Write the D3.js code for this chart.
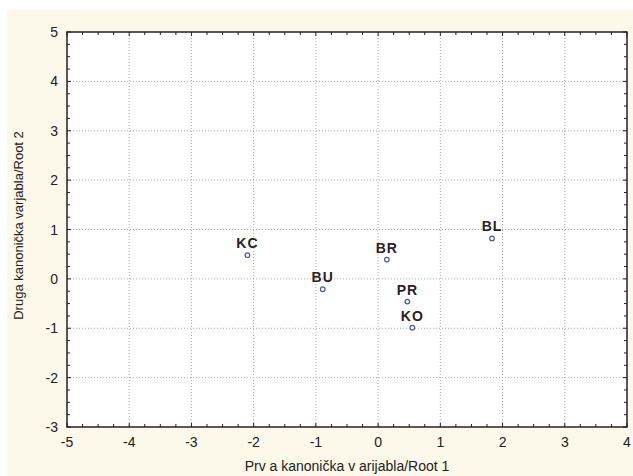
<!DOCTYPE html>
<html>
<head>
<meta charset="utf-8">
<script src="https://cdn.jsdelivr.net/npm/d3@7"></script>
<style>
  html, body { margin: 0; padding: 0; background: #fff; }
  svg { display: block; }
  text { font-family: "Liberation Sans", Arial, sans-serif; fill: #222; }
</style>
</head>
<body>
<div id="chart"></div>
<script>
// centroid labels and coordinates on the two canonical roots
var groups = ['KC', 'BU', 'BR', 'PR', 'KO', 'BL'];
var root1 = [-2.1, -0.89, 0.14, 0.47, 0.55, 1.83];
var root2 = [0.48, -0.21, 0.39, -0.46, -0.99, 0.82];
var xTicks = [-5, -4, -3, -2, -1, 0, 1, 2, 3, 4];
var yTicks = [-3, -2, -1, 0, 1, 2, 3, 4, 5];

var width = 633, height = 476;
var margin = { top: 32, right: 6, bottom: 49, left: 67 };
var w = width - margin.left - margin.right;
var h = height - margin.top - margin.bottom;

var svg = d3.select('#chart').append('svg')
    .attr('width', width)
    .attr('height', height);

// cream panel behind everything
svg.append('rect')
    .attr('x', 7).attr('y', 10)
    .attr('width', width - 7).attr('height', height - 10)
    .style('fill', '#fcf8ea');

var chart = svg.append('g')
    .attr('transform', 'translate(' + margin.left + ',' + margin.top + ')');

var x = d3.scaleLinear().domain([-5, 4]).range([0, w]);
var y = d3.scaleLinear().domain([-3, 5]).range([h, 0]);

chart.append('rect')
    .attr('width', w).attr('height', h)
    .style('fill', '#fff');

// dotted grid
chart.selectAll('.vgrid')
    .data(xTicks.slice(1, -1))
    .enter().append('line')
    .attr('x1', function (d) { return x(d); })
    .attr('x2', function (d) { return x(d); })
    .attr('y1', 0).attr('y2', h)
    .style('stroke', '#aaa')
    .style('stroke-dasharray', '1,2');
chart.selectAll('.hgrid')
    .data(yTicks.slice(1, -1))
    .enter().append('line')
    .attr('y1', function (d) { return y(d); })
    .attr('y2', function (d) { return y(d); })
    .attr('x1', 0).attr('x2', w)
    .style('stroke', '#aaa')
    .style('stroke-dasharray', '1,2');

// inward ticks on all four sides, quarter-unit minors
var xMinor = d3.range(-5, 4.001, 0.25);
var yMinor = d3.range(-3, 5.001, 0.25);

function tickLen(d) { return Math.abs(d - Math.round(d)) < 1e-6 ? 4 : 3; }

var ticks = chart.append('g').style('stroke', '#222').style('stroke-width', 1);
ticks.selectAll('.tb').data(xMinor).enter().append('line')
    .attr('x1', function (d) { return x(d); }).attr('x2', function (d) { return x(d); })
    .attr('y1', h).attr('y2', function (d) { return h - tickLen(d); });
ticks.selectAll('.tt').data(xMinor).enter().append('line')
    .attr('x1', function (d) { return x(d); }).attr('x2', function (d) { return x(d); })
    .attr('y1', 0).attr('y2', function (d) { return tickLen(d); });
ticks.selectAll('.tl').data(yMinor).enter().append('line')
    .attr('y1', function (d) { return y(d); }).attr('y2', function (d) { return y(d); })
    .attr('x1', 0).attr('x2', function (d) { return tickLen(d); });
ticks.selectAll('.tr').data(yMinor).enter().append('line')
    .attr('y1', function (d) { return y(d); }).attr('y2', function (d) { return y(d); })
    .attr('x1', w).attr('x2', function (d) { return w - tickLen(d); });

// frame
chart.append('rect')
    .attr('width', w).attr('height', h)
    .style('fill', 'none')
    .style('stroke', '#222')
    .style('stroke-width', 1.5);

// tick labels
chart.selectAll('.xLabel')
    .data(xTicks)
    .enter().append('text')
    .text(function (d) { return d; })
    .attr('x', function (d) { return x(d); })
    .attr('y', h + 20)
    .style('text-anchor', 'middle')
    .style('font-size', '14px');
chart.selectAll('.yLabel')
    .data(yTicks)
    .enter().append('text')
    .text(function (d) { return d; })
    .attr('x', -9)
    .attr('y', function (d) { return y(d) + 5; })
    .style('text-anchor', 'end')
    .style('font-size', '14px');

// axis titles
svg.append('text')
    .text('Prv a kanonička v arijabla/Root 1')
    .attr('x', margin.left + w / 2)
    .attr('y', 471)
    .style('text-anchor', 'middle')
    .style('font-size', '14px');
svg.append('text')
    .text('Druga kanonička varjabla/Root 2')
    .attr('transform', 'translate(23,' + (margin.top + h / 2 - 4) + ') rotate(-90)')
    .style('text-anchor', 'middle')
    .style('font-size', '13px');

// points
var pts = groups.map(function (g, i) { return { name: g, r1: root1[i], r2: root2[i] }; });

chart.selectAll('.pt')
    .data(pts)
    .enter().append('circle')
    .attr('cx', function (d) { return x(d.r1); })
    .attr('cy', function (d) { return y(d.r2); })
    .attr('r', 2.3)
    .style('fill', '#fff')
    .style('stroke', '#4a5aa8')
    .style('stroke-width', 1.2);

chart.selectAll('.ptLabel')
    .data(pts)
    .enter().append('text')
    .text(function (d) { return d.name; })
    .attr('x', function (d) { return x(d.r1); })
    .attr('y', function (d) { return y(d.r2) - 7; })
    .style('text-anchor', 'middle')
    .style('font-size', '14px')
    .style('font-weight', 'bold')
    .style('letter-spacing', '1px')
    .style('fill', '#2a2222');
</script>
</body>
</html>
